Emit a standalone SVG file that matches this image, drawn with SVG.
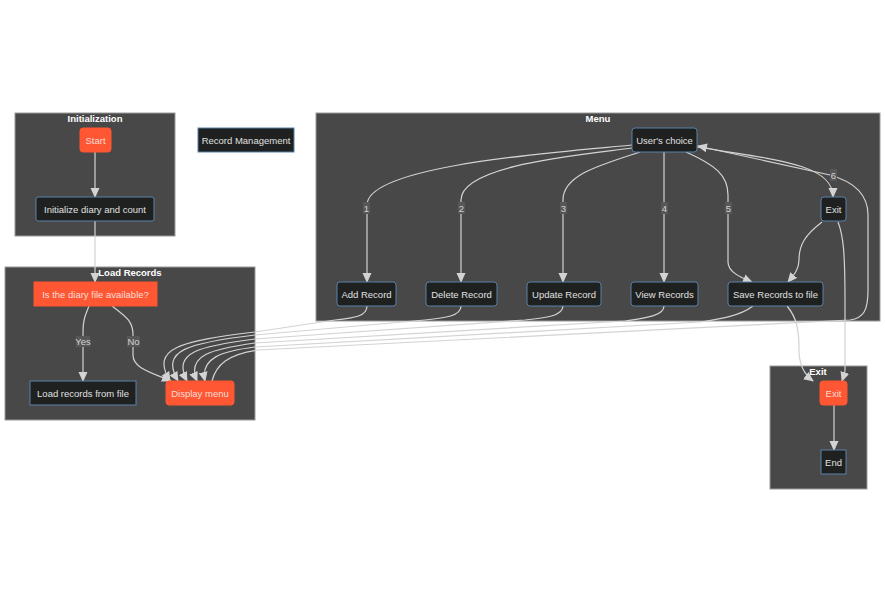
<svg xmlns="http://www.w3.org/2000/svg" width="885" height="603" viewBox="0 0 885 603">
<defs>
<style>
.cluster{fill:#484848;stroke:#9a9a9a;stroke-width:1}
.ctitle{font-family:"Liberation Sans",Arial,sans-serif;font-size:9.5px;font-weight:bold;fill:#ffffff;text-anchor:middle}
.node{fill:#1f2020;stroke:#5a80a8;stroke-width:1}
.orange{fill:#ff5733;stroke:#ff5733;stroke-width:1}
.t{font-family:"Liberation Sans",Arial,sans-serif;font-size:9.5px;fill:#e0e0e0;text-anchor:middle}
.to{font-family:"Liberation Sans",Arial,sans-serif;font-size:9.5px;fill:#f6ddd6;text-anchor:middle}
.edge{fill:none;stroke:#d3d3d3;stroke-width:1.2}
.lbg{fill:#575757}
.lt{font-family:"Liberation Sans",Arial,sans-serif;font-size:9.5px;fill:#d3d3d3;text-anchor:middle}
</style>
<marker id="arr" markerUnits="userSpaceOnUse" markerWidth="10" markerHeight="10" viewBox="0 0 10 10" refX="9" refY="5" orient="auto">
<path d="M0,0.5 L10,5 L0,9.5 z" fill="#d3d3d3"/>
</marker>
</defs>
<rect width="885" height="603" fill="#ffffff"/>

<g id="cluster-init">
<rect class="cluster" x="15" y="113" width="160" height="123"/>
<text class="ctitle" x="95" y="122">Initialization</text>
</g>
<g id="cluster-load">
<rect class="cluster" x="5" y="267" width="250" height="153"/>
<text class="ctitle" x="130" y="276">Load Records</text>
</g>
<g id="cluster-menu">
<rect class="cluster" x="316" y="113" width="564" height="208"/>
<text class="ctitle" x="598" y="122">Menu</text>
</g>
<g id="cluster-exit">
<rect class="cluster" x="770" y="366" width="97" height="123"/>
<text class="ctitle" x="818" y="375">Exit</text>
</g>

<g id="edges">
<path class="edge" marker-end="url(#arr)" d="M95,152 L95,197"/>
<path class="edge" marker-end="url(#arr)" d="M95,221 L95,282"/>
<path class="edge" marker-end="url(#arr)" d="M89,306 C84,318 83,322 83,332 L83,381"/>
<path class="edge" marker-end="url(#arr)" d="M112,306 C128,318 133,322 133,335 L133,355 C133,368 150,372 171,381"/>
<path class="edge" marker-end="url(#arr)" d="M632,145 C560,152 367,165 367,205 L367,282"/>
<path class="edge" marker-end="url(#arr)" d="M632,148 C580,155 461,165 461,200 L461,282"/>
<path class="edge" marker-end="url(#arr)" d="M640,152 C600,165 563,175 563,200 L563,282"/>
<path class="edge" marker-end="url(#arr)" d="M664,152 L664,282"/>
<path class="edge" marker-end="url(#arr)" d="M686,152 C715,165 728,175 728,195 L728,262 C728,272 740,277 752,282"/>
<path class="edge" marker-end="url(#arr)" d="M697,147 C780,160 833,165 833,197"/>
<path class="edge" marker-end="url(#arr)" d="M212,381 C216,365 228,354 258,350 L850,320 C864,318 868,310 868,290 L868,215 C868,195 855,182 830,175 L698,146"/>
<path class="edge" marker-end="url(#arr)" d="M367,306 C367,316 355,318 335,320 L255,332 C180,341 150,348 170,381"/>
<path class="edge" marker-end="url(#arr)" d="M461,306 C461,316 445,318 425,320 L255,335 C188,343 160,350 178,381"/>
<path class="edge" marker-end="url(#arr)" d="M563,306 C563,316 545,318 525,320 L255,339 C200,346 172,352 187,381"/>
<path class="edge" marker-end="url(#arr)" d="M664,306 C664,316 645,318 625,321 L255,343 C212,349 186,355 197,381"/>
<path class="edge" marker-end="url(#arr)" d="M753,306 C740,316 720,319 700,322 L255,347 C222,351 200,358 205,381"/>
<path class="edge" marker-end="url(#arr)" d="M822,222 C805,235 799,245 799,260 C799,270 793,276 788,282"/>
<path class="edge" marker-end="url(#arr)" d="M838,222 C843,235 845,250 845,300 L845,370 C845,375 843,378 842,381"/>
<path class="edge" marker-end="url(#arr)" d="M787,306 C797,318 799,330 799,350 C799,365 805,375 813,381"/>
<path class="edge" marker-end="url(#arr)" d="M834,405 L834,450"/>
<g id="edge-labels">
<rect class="lbg" x="76" y="336" width="14" height="11"/><text class="lt" x="83" y="344.5">Yes</text>
<rect class="lbg" x="127" y="336" width="13" height="11"/><text class="lt" x="133.5" y="344.5">No</text>
<rect class="lbg" x="363" y="202" width="7" height="12"/><text class="lt" x="366.5" y="211.5">1</text>
<rect class="lbg" x="458" y="202" width="7" height="12"/><text class="lt" x="461.5" y="211.5">2</text>
<rect class="lbg" x="560" y="202" width="7" height="12"/><text class="lt" x="563.5" y="211.5">3</text>
<rect class="lbg" x="661" y="202" width="7" height="12"/><text class="lt" x="664.5" y="211.5">4</text>
<rect class="lbg" x="725" y="202" width="7" height="12"/><text class="lt" x="728.5" y="211.5">5</text>
<rect class="lbg" x="830" y="169" width="7" height="12"/><text class="lt" x="833.5" y="178.5">6</text>
</g>
</g>

<g id="start"><rect class="orange" x="80" y="128" width="31" height="24" rx="3"/><text class="to" x="95.5" y="143.5">Start</text></g>
<g id="init"><rect class="node" x="36" y="197" width="118" height="24" rx="2"/><text class="t" x="95" y="212.5">Initialize diary and count</text></g>
<g id="recmgmt"><rect class="node" x="198" y="128" width="96" height="24"/><text class="t" x="246" y="143.5">Record Management</text></g>
<g id="fileavail"><rect class="orange" x="34" y="282" width="123" height="24"/><text class="to" x="95.5" y="297.5">Is the diary file available?</text></g>
<g id="loadrec"><rect class="node" x="30" y="381" width="106" height="24"/><text class="t" x="83" y="396.5">Load records from file</text></g>
<g id="dispmenu"><rect class="orange" x="166" y="381" width="68" height="24" rx="3"/><text class="to" x="200" y="396.5">Display menu</text></g>
<g id="choice"><rect class="node" x="632" y="128" width="65" height="24" rx="3"/><text class="t" x="664.5" y="143.5">User's choice</text></g>
<g id="menuexit"><rect class="node" x="821" y="197" width="25" height="24" rx="3"/><text class="t" x="833.5" y="212.5">Exit</text></g>
<g id="add"><rect class="node" x="337" y="282" width="59" height="24" rx="3"/><text class="t" x="366.5" y="297.5">Add Record</text></g>
<g id="delete"><rect class="node" x="426" y="282" width="71" height="24" rx="3"/><text class="t" x="461.5" y="297.5">Delete Record</text></g>
<g id="update"><rect class="node" x="527" y="282" width="74" height="24" rx="3"/><text class="t" x="564" y="297.5">Update Record</text></g>
<g id="view"><rect class="node" x="631" y="282" width="67" height="24" rx="3"/><text class="t" x="664.5" y="297.5">View Records</text></g>
<g id="save"><rect class="node" x="728" y="282" width="95" height="24" rx="3"/><text class="t" x="775.5" y="297.5">Save Records to file</text></g>
<g id="exit"><rect class="orange" x="820" y="381" width="27" height="24" rx="3"/><text class="to" x="833.5" y="396.5">Exit</text></g>
<g id="end"><rect class="node" x="821" y="450" width="25" height="24"/><text class="t" x="833.5" y="465.5">End</text></g>
</svg>
